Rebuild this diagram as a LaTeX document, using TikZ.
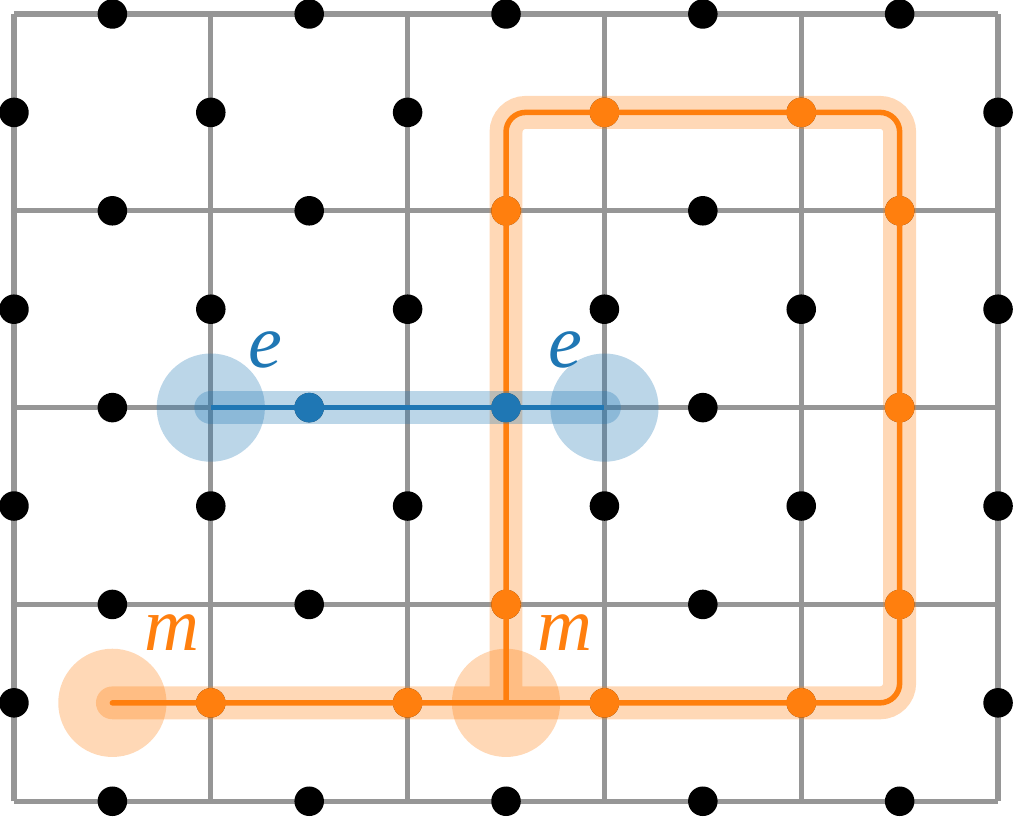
\documentclass[tikz,border=0pt]{standalone}
\usepackage{fontspec}
\setmainfont{Liberation Serif}
\definecolor{tabblue}{HTML}{1F77B4}
\definecolor{taborange}{HTML}{FF7F0E}
\definecolor{gridgray}{RGB}{150,150,150}
\tikzset{
	lattice/.style={gridgray, line width=1.5pt},
	halo/.style={opacity=0.3, line width=9.5pt, line cap=round},
	anyon/.style={opacity=0.3},
	chain/.style={line width=1.6pt, line cap=round},
}

\begin{document}
\begin{tikzpicture}[x=2cm, y=2cm, every node/.style={font=\fontsize{22}{26}\selectfont\itshape}]
	\useasboundingbox (-0.071,-0.076) rectangle (5.081,4.071);
	% lattice and qubits
	\foreach \i in {0,...,5} \draw[lattice] (\i,0) -- (\i,4);
	\foreach \j in {0,...,4} \draw[lattice] (0,\j) -- (5,\j);
	\foreach \i in {0,...,4} \foreach \j in {0,...,4} \fill (\i+0.5,\j) circle (0.15cm);
	\foreach \i in {0,...,5} \foreach \j in {0,...,3} \fill (\i,\j+0.5) circle (0.15cm);
	\coordinate (e1) at (1,2);
	\coordinate (e2) at (3,2);
	\coordinate (m1) at (0.5,0.5);
	\coordinate (m2) at (2.5,0.5);
	% m string
	\begin{scope}[transparency group, opacity=0.3]
		\draw[taborange, line width=9.5pt, line cap=round, rounded corners=2mm] (m1) -- (4.5,0.5) -- (4.5,3.5) -- (2.5,3.5) -- (m2);
	\end{scope}
	\fill[taborange, anyon] (m1) circle (0.55cm);
	\fill[taborange, anyon] (m2) circle (0.55cm);
	\draw[taborange, chain, rounded corners=2mm] (m1) -- (4.5,0.5) -- (4.5,3.5) -- (2.5,3.5) -- (m2);
	\foreach \p in {(1,0.5),(2,0.5),(3,0.5),(4,0.5),(4.5,1),(4.5,2),(4.5,3),(4,3.5),(3,3.5),(2.5,3),(2.5,1)}
		\fill[taborange] \p circle (0.15cm);
	% e string
	\draw[tabblue, halo] (e1) -- (e2);
	\fill[tabblue, anyon] (e1) circle (0.55cm);
	\fill[tabblue, anyon] (e2) circle (0.55cm);
	\draw[tabblue, line width=1.6pt] (e1) -- (e2);
	\foreach \p in {(1.5,2),(2.5,2)}
		\fill[tabblue] \p circle (0.15cm);
	% labels
	\node[tabblue] (elabel1) at (1.275,2.294) {e};
	\node[tabblue] (elabel2) at (2.80,2.294) {e};
	\node[taborange] (mlabel1) at (0.803,0.858) {m};
	\node[taborange] (mlabel2) at (2.80,0.858) {m};
\end{tikzpicture}
\end{document}
